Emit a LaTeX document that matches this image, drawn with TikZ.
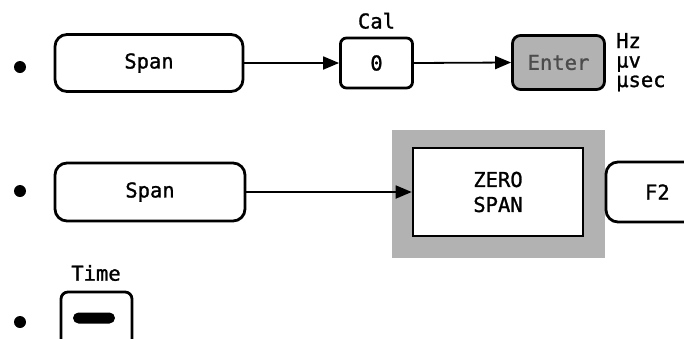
\documentclass[tikz,border=0pt]{standalone}
\usepackage{fontspec}
\setmainfont{DejaVu Sans Mono}[FakeBold=1.2]
\usetikzlibrary{arrows.meta}
\tikzset{
  key/.style={draw=black, line width=2.8pt, rounded corners=#1, inner sep=0pt, fill=white},
  key/.default=12pt,
  lbl/.style={font=\fontsize{20.5}{22}\selectfont, inner sep=0pt},
  dot/.style={circle, fill=black, inner sep=0pt, minimum size=12pt},
  flow/.style={line width=1.8pt, -{Triangle[length=16pt,width=13pt]}},
  shade/.style={fill=black!30, draw=none}
}
\begin{document}
\begin{tikzpicture}[x=1pt,y=-1pt]
\useasboundingbox (0,0) rectangle (684,338);
\clip (0,0) rectangle (684,338);
% bullets
\node[dot] (d1) at (20,67) {};
\node[dot] (d2) at (20,191) {};
\node[dot] (d3) at (20,322) {};
% row 1
\node[key, minimum width=188pt, minimum height=57pt, lbl] (span1) at (149,63) {Span};
\node[key=6pt, minimum width=72pt, minimum height=50pt, lbl] (cal0) at (376.5,63) {0};
\node[lbl, anchor=south] (cal) at (376.5,29) {Cal};
\node[key=8pt, fill=black!30, minimum width=92pt, minimum height=54pt, lbl, text=black!70] (enter) at (558.5,62.5) {Enter};
\node[lbl, anchor=base west] (hz) at (616,48) {Hz};
\node[lbl, anchor=base west] (uv) at (616,67.5) {μv};
\node[lbl, anchor=base west] (usec) at (616,87) {μsec};
\draw[flow] (span1.east) -- (cal0.west);
\draw[flow] (cal0.east) -- (enter.west);
% row 2
\node[key, minimum width=190pt, minimum height=58pt, lbl] (span2) at (150,192) {Span};
\node[shade, minimum width=213pt, minimum height=128pt, inner sep=0pt] (shadebox) at (498.5,194) {};
\node[draw=black, line width=2.6pt, fill=white, minimum width=170pt, minimum height=88pt, lbl, align=center] (zero) at (498,192) {ZERO\\[3pt]SPAN};
\node[key, minimum width=120pt, minimum height=60pt, lbl, text width=98pt, align=left] (f2) at (666,192) {\hspace*{28pt}F2};
\draw[flow] (span2.east) -- (zero.west);
% row 3
\node[lbl] (time) at (96,273) {Time};
\node[key=7pt, minimum width=71pt, minimum height=70pt] (tbox) at (96.5,327) {};
\node[fill=black, rounded corners=5.5pt, minimum width=42pt, minimum height=11pt, inner sep=0pt] (pill) at (94,318) {};
\end{tikzpicture}
\end{document}
